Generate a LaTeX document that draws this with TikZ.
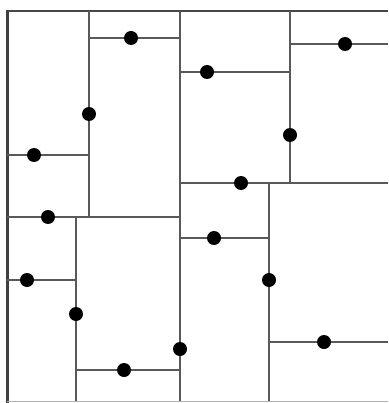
\documentclass[tikz,border=0pt]{standalone}
\begin{document}
\begin{tikzpicture}[x=1pt,y=-1pt,
  seg/.style={draw=black!65,line width=2pt},
  pt/.style={fill=black},
]
\useasboundingbox (0,0) rectangle (388,403);
% outer frame
\draw[black!72,line width=2.6pt] (7,11) -- (388,11);
\draw[black!75,line width=3pt] (7,9.7) -- (7,403);
\draw[black!30,line width=1.4pt] (7,401.5) -- (388,401.5);
% segments
\draw[seg] (89,11) -- (89,217);
\draw[seg] (89,38) -- (180,38);
\draw[seg] (180,11) -- (180,401);
\draw[seg] (7,155) -- (89,155);
\draw[seg] (7,217) -- (180,217);
\draw[seg] (76,217) -- (76,401);
\draw[seg] (7,280) -- (76,280);
\draw[seg] (76,370) -- (180,370);
\draw[seg] (290,11) -- (290,183);
\draw[seg] (180,72) -- (290,72);
\draw[seg] (290,44) -- (388,44);
\draw[seg] (180,183) -- (388,183);
\draw[seg] (269,183) -- (269,401);
\draw[seg] (180,238) -- (269,238);
\draw[seg] (269,342) -- (388,342);
% points
\foreach \p in {(131,38),(89,114),(34,155),(48,217),(27,280),(76,314),(124,370),(180,349),
  (207,72),(345,44),(290,135),(241,183),(214,238),(269,280),(324,342)}
  \fill[pt] \p circle (7);
\end{tikzpicture}
\end{document}
